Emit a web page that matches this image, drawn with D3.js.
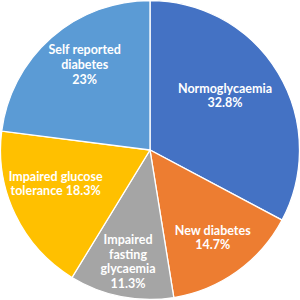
<!DOCTYPE html>
<html>
<head>
<meta charset="utf-8">
<script src="https://cdn.jsdelivr.net/npm/d3@7"></script>
<style>
  html, body { margin: 0; padding: 0; background: #fff; }
  svg { display: block; }
</style>
</head>
<body>
<script>
// data
var categories = ["Normoglycaemia", "New diabetes", "Impaired fasting glycaemia", "Impaired glucose tolerance", "Self reported diabetes"];
var values = [32.8, 14.7, 11.3, 18.3, 23];
var labelLines = [
  ["Normoglycaemia", "32.8%"],
  ["New diabetes", "14.7%"],
  ["Impaired", "fasting", "glycaemia", "11.3%"],
  ["Impaired glucose", "tolerance 18.3%"],
  ["Self reported", "diabetes", "23%"]
];
var colors = ["#4472C4", "#ED7D31", "#A5A5A5", "#FFC000", "#5B9BD5"];

// label placement (fraction of radius, angle nudge in degrees)
var labelRadius = [0.62, 0.72, 0.76, 0.67, 0.72];
var labelNudge = [-5, 0, 0, 6, 4];

var width = 300, height = 300, R = 149.5;

var svg = d3.select("body").append("svg")
  .attr("width", width).attr("height", height);

var g = svg.append("g").attr("transform", "translate(150,150)");

var pie = d3.pie().sort(null).value(function(d) { return d; });
var arcs = pie(values);

var arc = d3.arc().innerRadius(0).outerRadius(R);

g.selectAll("path")
  .data(arcs)
  .enter()
  .append("path")
  .attr("d", arc)
  .attr("fill", function(d, i) { return colors[i]; })
  .attr("stroke", "#fff")
  .attr("stroke-width", 1.3);

var lineH = 14.6;
var labels = g.selectAll("text.lbl")
  .data(arcs)
  .enter()
  .append("text")
  .attr("class", "lbl")
  .attr("text-anchor", "middle")
  .attr("fill", "#fff")
  .style("font-family", "Lato, 'Open Sans', sans-serif")
  .style("font-weight", "bold")
  .style("font-size", "12.5px")
  .attr("transform", function(d, i) {
    var a = (d.startAngle + d.endAngle) / 2 + labelNudge[i] * Math.PI / 180;
    var r = labelRadius[i] * R;
    return "translate(" + (r * Math.sin(a)) + "," + (-r * Math.cos(a)) + ")";
  });

labels.each(function(d, i) {
  var lines = labelLines[i];
  var t = d3.select(this);
  var y0 = -(lines.length - 1) * lineH / 2 + 4.5;
  lines.forEach(function(s, k) {
    t.append("tspan").attr("x", 0).attr("y", y0 + k * lineH).text(s);
  });
});
</script>
</body>
</html>
